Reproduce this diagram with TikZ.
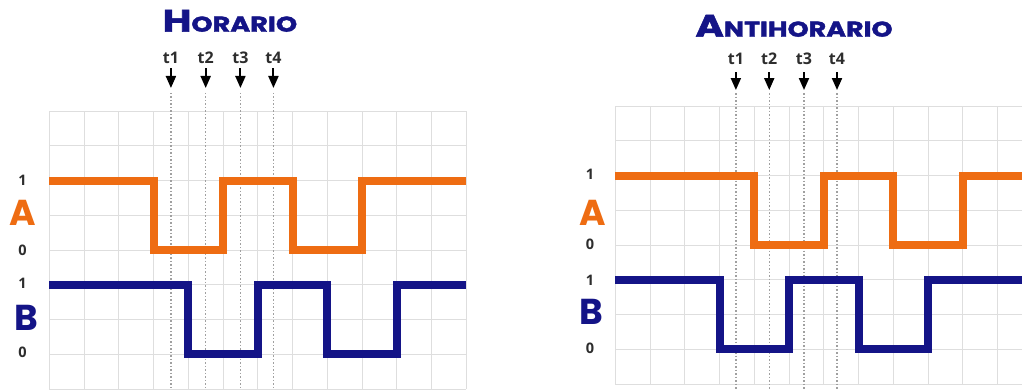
\documentclass[tikz,border=0pt]{standalone}
\usepackage{fontspec}
\usetikzlibrary{arrows.meta}
\newfontfamily\popf{Poppins}
\newfontfamily\popheavy{Poppins}[FakeBold=1.5]
\newfontfamily\opsf{Open Sans}
\definecolor{sigorange}{RGB}{238,108,18}
\definecolor{signavy}{RGB}{20,20,135}
\definecolor{gridgray}{RGB}{222,222,222}
\definecolor{lblgray}{RGB}{45,45,45}
\definecolor{dotgray}{RGB}{160,160,160}
\begin{document}
\begin{tikzpicture}[x=1pt,y=-1pt,
 gridline/.style={gridgray,line width=1pt},
 sigA/.style={sigorange,line width=8pt,line join=miter},
 sigB/.style={signavy,line width=8pt,line join=miter},
 tmark/.style={dotgray,line width=1.3pt,dash pattern=on 1.5pt off 2pt},
 tarrow/.style={-{Triangle[width=10pt,length=12pt]},line width=2pt,black},
 tlabel/.style={font=\opsf\bfseries\fontsize{16}{16}\selectfont,text=lblgray,inner sep=0pt,anchor=base},
 levlabel/.style={font=\opsf\bfseries\fontsize{14.5}{14.5}\selectfont,text=lblgray,inner sep=0pt},
 chlabel/.style={font=\popf\bfseries\fontsize{36}{36}\selectfont,inner sep=0pt},
 titlelbl/.style={font=\popheavy\bfseries,text=signavy,inner sep=0pt,anchor=base},
]
\useasboundingbox (0,0) rectangle (1022,389);
\fill[white] (0,0) rectangle (1022,389);
% ---------- left panel: HORARIO ----------
\node[titlelbl] (titleL) at (230,31.7) {\scalebox{1.26}[1]{{\fontsize{31}{31}\selectfont H}{\fontsize{21.5}{21.5}\selectfont ORARIO}}};
\begin{scope}[shift={(49.3,111)},x=34.75pt,y=-34.75pt]
 \foreach \i in {0,...,12} \draw[gridline] (\i,0) -- (\i,8);
 \foreach \j in {0,...,8} \draw[gridline] (0,\j) -- (12,\j);
 \foreach \k/\n in {3.5/1,4.5/2,5.5/3,6.45/4} {
   \coordinate (Ltop\n) at (\k,-0.52);
   \coordinate (Lbot\n) at (\k,8);
   \draw[tmark] (Ltop\n) -- (Lbot\n);
   \node[tlabel] (Lt\n) at (\k,-1.381) {t\n};
   \coordinate (Ltip\n) at (\k,-0.662);
   \draw[tarrow] (\k,-1.237) -- (Ltip\n);
 }
 \draw[sigA] (0,2) -- (3,2) -- (3,4) -- (5,4) -- (5,2) -- (7,2) -- (7,4) -- (9,4) -- (9,2) -- (12,2);
 \draw[sigB] (0,5) -- (4,5) -- (4,7) -- (6,7) -- (6,5) -- (8,5) -- (8,7) -- (10,7) -- (10,5) -- (12,5);
\end{scope}
\node[levlabel] (L1a) at (22.5,180) {1};
\node[chlabel,text=sigorange] (LA) at (22.5,213) {A};
\node[levlabel] (L0a) at (22.5,250) {0};
\node[levlabel] (L1b) at (22.5,283) {1};
\node[chlabel,text=signavy] (LB) at (26,317.5) {B};
\node[levlabel] (L0b) at (22.5,352) {0};
% ---------- right panel: ANTIHORARIO ----------
\node[titlelbl] (titleR) at (794,36.7) {\scalebox{1.25}[1]{{\fontsize{31}{31}\selectfont A}{\fontsize{21.5}{21.5}\selectfont NTIHORARIO}}};
\begin{scope}[shift={(615.3,106)},x=34.75pt,y=-34.75pt]
 \foreach \i in {0,...,11} \draw[gridline] (\i,0) -- (\i,8);
 \foreach \j in {0,...,8} \draw[gridline] (0,\j) -- (11.8,\j);
 \foreach \k/\n in {3.47/1,4.43/2,5.43/3,6.38/4} {
   \coordinate (Rtop\n) at (\k,-0.374);
   \coordinate (Rbot\n) at (\k,8.2);
   \draw[tmark] (Rtop\n) -- (Rbot\n);
   \node[tlabel] (Rt\n) at (\k,-1.18) {t\n};
   \coordinate (Rtip\n) at (\k,-0.46);
   \draw[tarrow] (\k,-0.978) -- (Rtip\n);
 }
 \draw[sigA] (0,2) -- (4,2) -- (4,4) -- (6,4) -- (6,2) -- (8,2) -- (8,4) -- (10,4) -- (10,2) -- (11.8,2);
 \draw[sigB] (0,5) -- (3,5) -- (3,7) -- (5,7) -- (5,5) -- (7,5) -- (7,7) -- (9,7) -- (9,5) -- (11.8,5);
\end{scope}
\node[levlabel] (R1a) at (590,174) {1};
\node[chlabel,text=sigorange] (RA) at (592.5,213) {A};
\node[levlabel] (R0a) at (590,244) {0};
\node[levlabel] (R1b) at (590,280) {1};
\node[chlabel,text=signavy] (RB) at (591,312) {B};
\node[levlabel] (R0b) at (590,348) {0};
\end{tikzpicture}
\end{document}
